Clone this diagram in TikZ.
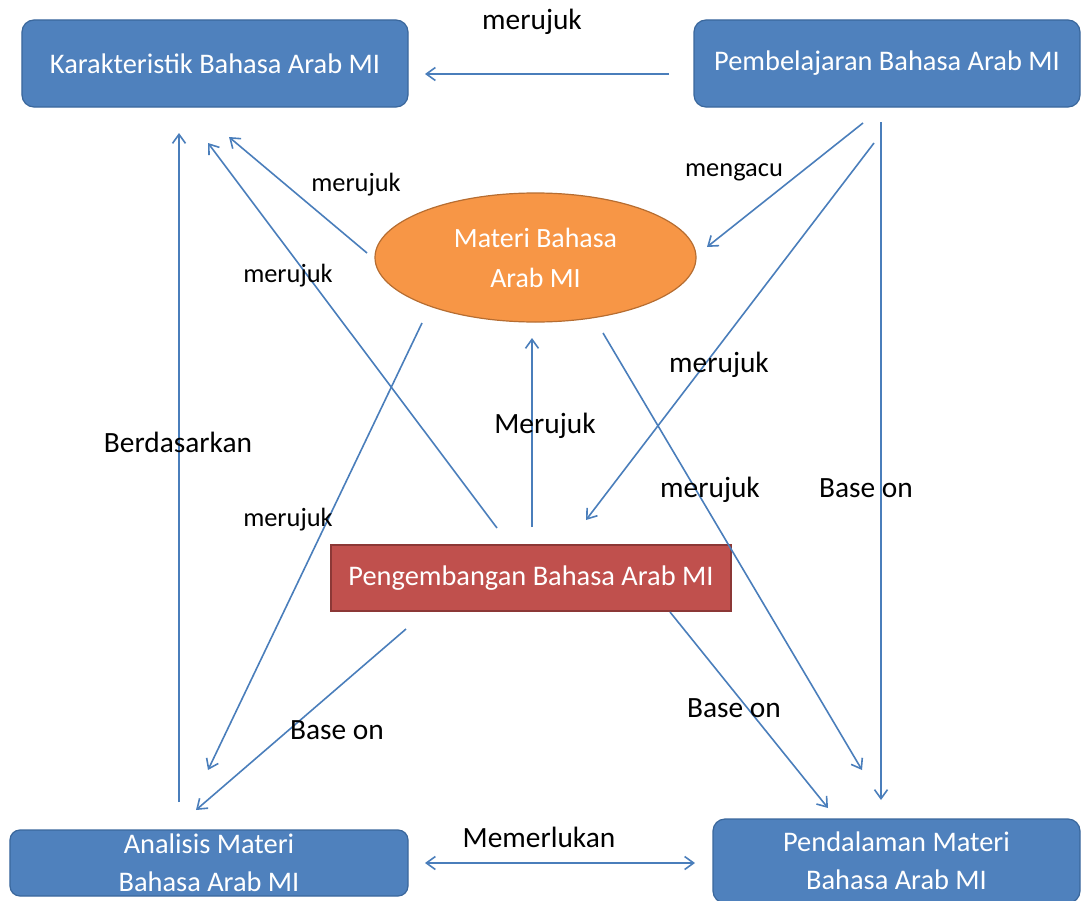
\documentclass[tikz,border=0pt]{standalone}
\usepackage{fontspec}
\setmainfont{Carlito}
\usetikzlibrary{arrows.meta,shapes.geometric}
\definecolor{boxblue}{HTML}{4F81BD}
\definecolor{boxblueb}{HTML}{3A679C}
\definecolor{boxred}{HTML}{C0504D}
\definecolor{boxredb}{HTML}{8C3836}
\definecolor{ellor}{HTML}{F79646}
\definecolor{ellorb}{HTML}{B66D31}
\definecolor{conn}{HTML}{4A7EBB}
\begin{document}
\begin{tikzpicture}[x=1bp,y=-1bp,
  bluebox/.style={draw=boxblueb, fill=boxblue, rounded corners=12bp, line width=1.2bp,
    text=white, align=center, inner sep=0, font=\fontsize{28.5}{38.5}\selectfont},
  redbox/.style={draw=boxredb, fill=boxred, line width=1.2bp,
    text=white, align=center, inner sep=0, font=\fontsize{28.5}{38.5}\selectfont},
  ellbox/.style={ellipse, draw=ellorb, fill=ellor, line width=1.2bp,
    text=white, align=center, inner sep=0, font=\fontsize{28}{40}\selectfont},
  conline/.style={draw=conn, line width=1.6bp, -{Straight Barb[length=9bp,width=13bp,line width=1.6bp]}},
  biline/.style={draw=conn, line width=1.6bp, {Straight Barb[length=9bp,width=13bp,line width=1.6bp]}-{Straight Barb[length=9bp,width=13bp,line width=1.6bp]}},
  labl/.style={text=black, inner sep=0, font=\fontsize{29.5}{34}\selectfont},
  labs/.style={text=black, inner sep=0, font=\fontsize{26.5}{30}\selectfont}
]
\useasboundingbox (0,0) rectangle (1083,901);

% nodes
\node[bluebox, minimum width=386bp, minimum height=87bp] (kar) at (215,63.5) {Karakteristik Bahasa Arab MI};
\node[bluebox, minimum width=386bp, minimum height=87bp] (pem) at (887,63.5) {Pembelajaran Bahasa Arab MI};
\node[ellbox, minimum width=321bp, minimum height=129bp] (mat) at (535.5,257.5) {Materi Bahasa\\Arab MI};
\node[redbox, minimum width=400bp, minimum height=66bp] (dev) at (531,578) {Pengembangan Bahasa Arab MI};
\node[bluebox, rounded corners=10bp, minimum width=398bp, minimum height=66bp] (ana) at (209,863) {Analisis Materi\\Bahasa Arab MI};
\node[bluebox, minimum width=367bp, minimum height=84bp] (pen) at (896.5,861) {Pendalaman Materi\\Bahasa Arab MI};

% connector end points
\coordinate (c1a) at (669,74);  \coordinate (c1b) at (425,74);
\coordinate (c2a) at (179,802); \coordinate (c2b) at (179,133);
\coordinate (c3a) at (497,528); \coordinate (c3b) at (208,143);
\coordinate (c4a) at (367,253); \coordinate (c4b) at (229,137);
\coordinate (c5a) at (863,123); \coordinate (c5b) at (707,247);
\coordinate (c6a) at (874,143); \coordinate (c6b) at (586,520);
\coordinate (c7a) at (881,122); \coordinate (c7b) at (881,800);
\coordinate (c8a) at (422,323); \coordinate (c8b) at (208,770);
\coordinate (c9a) at (532,527); \coordinate (c9b) at (532,338);
\coordinate (c10a) at (603,333); \coordinate (c10b) at (862,770);
\coordinate (c11a) at (406,629); \coordinate (c11b) at (196,810);
\coordinate (c12a) at (670,612); \coordinate (c12b) at (828,808);
\coordinate (c13a) at (425,863); \coordinate (c13b) at (695,863);

% connectors
\draw[conline] (c1a) -- (c1b);
\draw[conline] (c2a) -- (c2b);
\draw[conline] (c3a) -- (c3b);
\draw[conline] (c4a) -- (c4b);
\draw[conline] (c5a) -- (c5b);
\draw[conline] (c6a) -- (c6b);
\draw[conline] (c7a) -- (c7b);
\draw[conline] (c8a) -- (c8b);
\draw[conline] (c9a) -- (c9b);
\draw[conline] (c10a) -- (c10b);
\draw[conline] (c11a) -- (c11b);
\draw[conline] (c12a) -- (c12b);
\draw[biline] (c13a) -- (c13b);

% labels
\node[labl] (l1) at (532,22) {merujuk};
\node[labs] (l4) at (356,185) {merujuk};
\node[labs] (l3) at (288,276) {merujuk};
\node[labs] (l5) at (734,172) {mengacu};
\node[labl] (l6) at (719,365) {merujuk};
\node[labl] (l9) at (545,426) {Merujuk};
\node[labl] (l10) at (710,490) {merujuk};
\node[labs] (l8) at (288,520) {merujuk};
\node[labl] (l2) at (178,442) {Berdasarkan};
\node[labl] (l11) at (337,730) {Base on};
\node[labl] (l12) at (734,708) {Base on};
\node[labl] (l7) at (866,488) {Base on};
\node[labl] (l13) at (539,837) {Memerlukan};
\end{tikzpicture}
\end{document}
